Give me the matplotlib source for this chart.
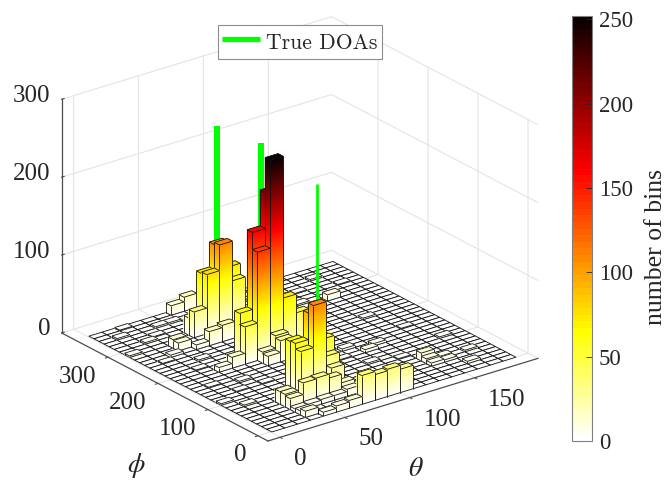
#!/usr/bin/env python3
"""3D histogram of DOA estimates with the true DOAs marked."""
import numpy as np
import matplotlib
matplotlib.use("Agg")
import matplotlib.pyplot as plt
from matplotlib.cm import ScalarMappable
from matplotlib.colors import Normalize
from matplotlib.lines import Line2D
from mpl_toolkits.mplot3d import proj3d
from mpl_toolkits.mplot3d.art3d import Poly3DCollection, Line3DCollection

plt.rcParams.update({
    "font.family": ["Liberation Serif", "DejaVu Serif"],
    "mathtext.fontset": "stix",
    "text.color": "#262626",
})

# ─── data ─────────────────────────────────────────────────
THETA_EDGES = np.linspace(1, 189, 20)
PHI_EDGES = np.linspace(-1, 365, 37)
THETA_LIM = (-9.3, 198.7)
PHI_LIM = (-20, 393)
Z_LIM = (0, 300)
CMAX = 252

THETA_TICKS = [0, 50, 100, 150]
PHI_TICKS = [0, 100, 200, 300]
Z_TICKS = [0, 100, 200, 300]
CBAR_TICKS = [0, 50, 100, 150, 200, 250]

# non-empty bins, every other bin is zero
bin_theta = [7, 8, 9, 10,
             6, 6, 5, 5, 5, 7, 7, 7, 4, 5, 6, 3, 3, 3, 3, 6, 5, 4, 7, 7, 6, 5, 4, 3, 3,
             7, 7, 6, 6, 8, 7, 7, 5, 5, 4, 3, 6, 6, 9,
             7, 7, 8, 8, 6, 6, 5, 5, 5, 6, 3, 3, 4, 6, 7, 2,
             12, 13, 11, 15, 14, 14, 14, 15, 15,
             2, 3, 1, 4, 2, 5, 1, 0, 3, 2, 1, 0, 2, 1, 3, 4, 8, 9, 10, 11,
             12, 13, 14, 16, 17, 15, 16, 17, 13, 12, 16, 17, 11, 10, 9, 10, 11, 12, 9, 8]
bin_phi = [0, 0, 0, 0,
           7, 8, 7, 8, 9, 8, 7, 6, 4, 4, 4, 4, 5, 6, 1, 0, 0, 0, 4, 3, 3, 3, 3, 3, 2,
           18, 19, 19, 18, 18, 17, 16, 19, 18, 18, 18, 16, 17, 18,
           28, 29, 29, 28, 29, 28, 28, 29, 25, 25, 26, 27, 25, 35, 35, 25,
           12, 13, 14, 27, 6, 5, 4, 5, 4,
           30, 31, 33, 33, 35, 33, 24, 28, 22, 20, 15, 10, 12, 8, 14, 12, 12, 15, 18, 20,
           24, 28, 31, 33, 30, 20, 15, 10, 8, 5, 2, 5, 9, 12, 25, 28, 32, 34, 33, 33]
bin_count = [37, 33, 35, 30,
             108, 95, 54, 61, 60, 56, 38, 26, 29, 30, 25, 14, 16, 16, 8, 10, 8, 5, 14, 9, 6, 6, 5, 4, 5,
             252, 207, 161, 139, 70, 30, 27, 62, 48, 14, 6, 12, 14, 46,
             109, 106, 72, 58, 74, 76, 33, 22, 18, 21, 10, 11, 6, 12, 18, 3,
             4, 3, 3, 8, 10, 6, 4, 4, 3,
             2, 1, 2, 2, 1, 2, 1, 2, 2, 1, 1, 2, 1, 2, 2, 1, 2, 2, 3, 2,
             1, 2, 1, 2, 1, 2, 1, 2, 1, 2, 3, 2, 2, 1, 2, 1, 2, 1, 2, 3]

doa_theta = [78, 83, 73]
doa_phi = [309, 233, 95]
doa_height = [250, 250, 250]
doa_width = [4.3, 4.3, 2.0]

CMAP = plt.get_cmap("hot_r")
NORM = Normalize(0, CMAX)
GREEN = "#00FF00"
GRID = "#e4e4e4"
AXIS = "#4d4d4d"

# pixel positions of the box corners in the 668x480 picture
FRONT_PX = (268, 441)
THETA_SPAN_PX = 270

fig = plt.figure(figsize=(6.68, 4.8), dpi=100)
W, H = 668, 480
SIDE = 760
ax = fig.add_axes([0, 0, SIDE / W, SIDE / H], projection="3d",
                  proj_type="ortho", computed_zorder=False)
ax.view_init(elev=23.6, azim=-127.4)
ax.set_xlim(*THETA_LIM)
ax.set_ylim(*PHI_LIM)
ax.set_zlim(*Z_LIM)
ax.patch.set_alpha(0)


def corner_px(x, y, z):
    xp, yp, _ = proj3d.proj_transform(x, y, z, ax.get_proj())
    return ax.transData.transform((xp, yp))


# scale and move the box so the corners land where they are in the reference
ax.set_box_aspect((4, 4, 3), zoom=1)
ax.apply_aspect()
a = corner_px(THETA_LIM[0], PHI_LIM[0], 0)
b = corner_px(THETA_LIM[1], PHI_LIM[0], 0)
ax.set_box_aspect((4, 4, 3), zoom=THETA_SPAN_PX / (b[0] - a[0]))
ax.apply_aspect()
a = corner_px(THETA_LIM[0], PHI_LIM[0], 0)
ax.set_position([(FRONT_PX[0] - a[0]) / W, (H - FRONT_PX[1] - a[1]) / H, SIDE / W, SIDE / H])
ax.apply_aspect()

for axis in (ax.xaxis, ax.yaxis, ax.zaxis):
    axis.pane.set_facecolor("white")
    axis.pane.set_edgecolor("none")
    axis.line.set_color(AXIS)
    axis.line.set_linewidth(0.9)
    axis._axinfo["grid"].update(color=GRID, linewidth=0.8)
    axis._axinfo["tick"].update(inward_factor=0.12, outward_factor=0.0, color=AXIS)
ax.zaxis._axinfo["tick"].update(inward_factor=0.0, outward_factor=0.12)

ax.set_xticks(THETA_TICKS)
ax.set_yticks(PHI_TICKS)
ax.set_zticks(Z_TICKS)
ax.set_xticklabels([])
ax.set_yticklabels([])
ax.set_zticklabels([])
ax.tick_params(colors=AXIS, width=0.8)


def tick_label(text, px, dx, dy, ha):
    # px is in display pixels from the bottom left
    fig.text((px[0] + dx) / W, (px[1] - dy) / H, text, fontsize=18, ha=ha, va="center")


for t in THETA_TICKS:
    tick_label(str(t), corner_px(t, PHI_LIM[0], 0), 13.5, 22, "left")
for p in PHI_TICKS:
    tick_label(str(p), corner_px(THETA_LIM[0], p, 0), -12, 19.5, "right")
for z in Z_TICKS:
    tick_label(str(z), corner_px(THETA_LIM[0], PHI_LIM[1], z), -11, -3.5, "right")


# ─── histogram ────────────────────────────────────────────
def draw_bar(i, j, h, order):
    x0, x1 = THETA_EDGES[i], THETA_EDGES[i + 1]
    y0, y1 = PHI_EDGES[j], PHI_EDGES[j + 1]
    levels = np.linspace(0, h, max(int(h / 3), 1) + 1)
    polys, colors = [], []
    for lo, hi in zip(levels[:-1], levels[1:]):
        color = CMAP(NORM((lo + hi) / 2))
        polys.append([(x0, y0, lo), (x0, y1, lo), (x0, y1, hi), (x0, y0, hi)])
        polys.append([(x0, y0, lo), (x1, y0, lo), (x1, y0, hi), (x0, y0, hi)])
        colors += [color, color]
    polys.append([(x0, y0, h), (x1, y0, h), (x1, y1, h), (x0, y1, h)])
    colors.append(CMAP(NORM(h)))
    faces = Poly3DCollection(polys, facecolors=colors, edgecolors=colors, linewidths=0.6)
    faces.set_zorder(order)
    ax.add_collection3d(faces, autolim=False)

    outline = [
        [(x0, y0, 0), (x0, y0, h)], [(x0, y1, 0), (x0, y1, h)], [(x1, y0, 0), (x1, y0, h)],
        [(x0, y0, 0), (x0, y1, 0)], [(x0, y0, 0), (x1, y0, 0)],
        [(x0, y0, h), (x1, y0, h)], [(x1, y0, h), (x1, y1, h)],
        [(x1, y1, h), (x0, y1, h)], [(x0, y1, h), (x0, y0, h)],
    ]
    lines = Line3DCollection(outline, colors="#111111", linewidths=0.6)
    lines.set_zorder(order + 0.1)
    ax.add_collection3d(lines, autolim=False)


filled = set(zip(bin_theta, bin_phi))
empty = []
for i in range(len(THETA_EDGES) - 1):
    for j in range(len(PHI_EDGES) - 1):
        if (i, j) not in filled:
            empty.append([(THETA_EDGES[i], PHI_EDGES[j], 0), (THETA_EDGES[i + 1], PHI_EDGES[j], 0),
                          (THETA_EDGES[i + 1], PHI_EDGES[j + 1], 0), (THETA_EDGES[i], PHI_EDGES[j + 1], 0)])
floor = Poly3DCollection(empty, facecolors="white", edgecolors="#111111", linewidths=0.6)
floor.set_zorder(1)
ax.add_collection3d(floor, autolim=False)

for i, j, h in zip(bin_theta, bin_phi, bin_count):
    draw_bar(i, j, h, 100 - (i + j))

# true DOAs sit in the painter order of the bin they stand in
for t, p, h, lw in zip(doa_theta, doa_phi, doa_height, doa_width):
    i = np.searchsorted(THETA_EDGES, t) - 1
    j = np.searchsorted(PHI_EDGES, p) - 1
    ax.plot([t, t], [p, p], [0, h], color=GREEN, linewidth=lw,
            solid_capstyle="butt", zorder=100 - (i + j) + 0.5)

# ─── axis names ───────────────────────────────────────────
fig.text(416 / W, 1 - 469 / H, r"$\theta$", fontsize=20, ha="center", va="center")
fig.text(136 / W, 1 - 466 / H, r"$\phi$", fontsize=20, ha="center", va="center")

# ─── colorbar ─────────────────────────────────────────────
cax = fig.add_axes([572 / W, 1 - 441 / H, 20 / W, 425 / H])
cbar = fig.colorbar(ScalarMappable(norm=NORM, cmap=plt.get_cmap("hot_r", 64)), cax=cax)
cbar.set_ticks(CBAR_TICKS)
cbar.ax.tick_params(labelsize=16.5, direction="in", length=4, width=0.6, colors="#262626", pad=5)
cbar.outline.set_edgecolor("#808080")
cbar.outline.set_linewidth(0.8)
fig.text(656.5 / W, 1 - 247 / H, "number of bins", rotation=90, fontsize=18.5,
         ha="center", va="center")

# ─── legend ───────────────────────────────────────────────
handle = Line2D([], [], color=GREEN, linewidth=3.8, solid_capstyle="butt")
leg = fig.legend(handles=[handle], labels=["True DOAs"], loc="center",
                 bbox_to_anchor=(300 / W, 1 - 42 / H),
                 prop={"family": "cmr10", "size": 15.6}, fancybox=False, framealpha=1,
                 edgecolor="#8c8c8c", handlelength=1.75, handletextpad=0.3, borderpad=0.18,
                 handleheight=1.45)
leg.get_frame().set_linewidth(0.8)

fig.savefig("out.png", dpi=100)
plt.close(fig)
